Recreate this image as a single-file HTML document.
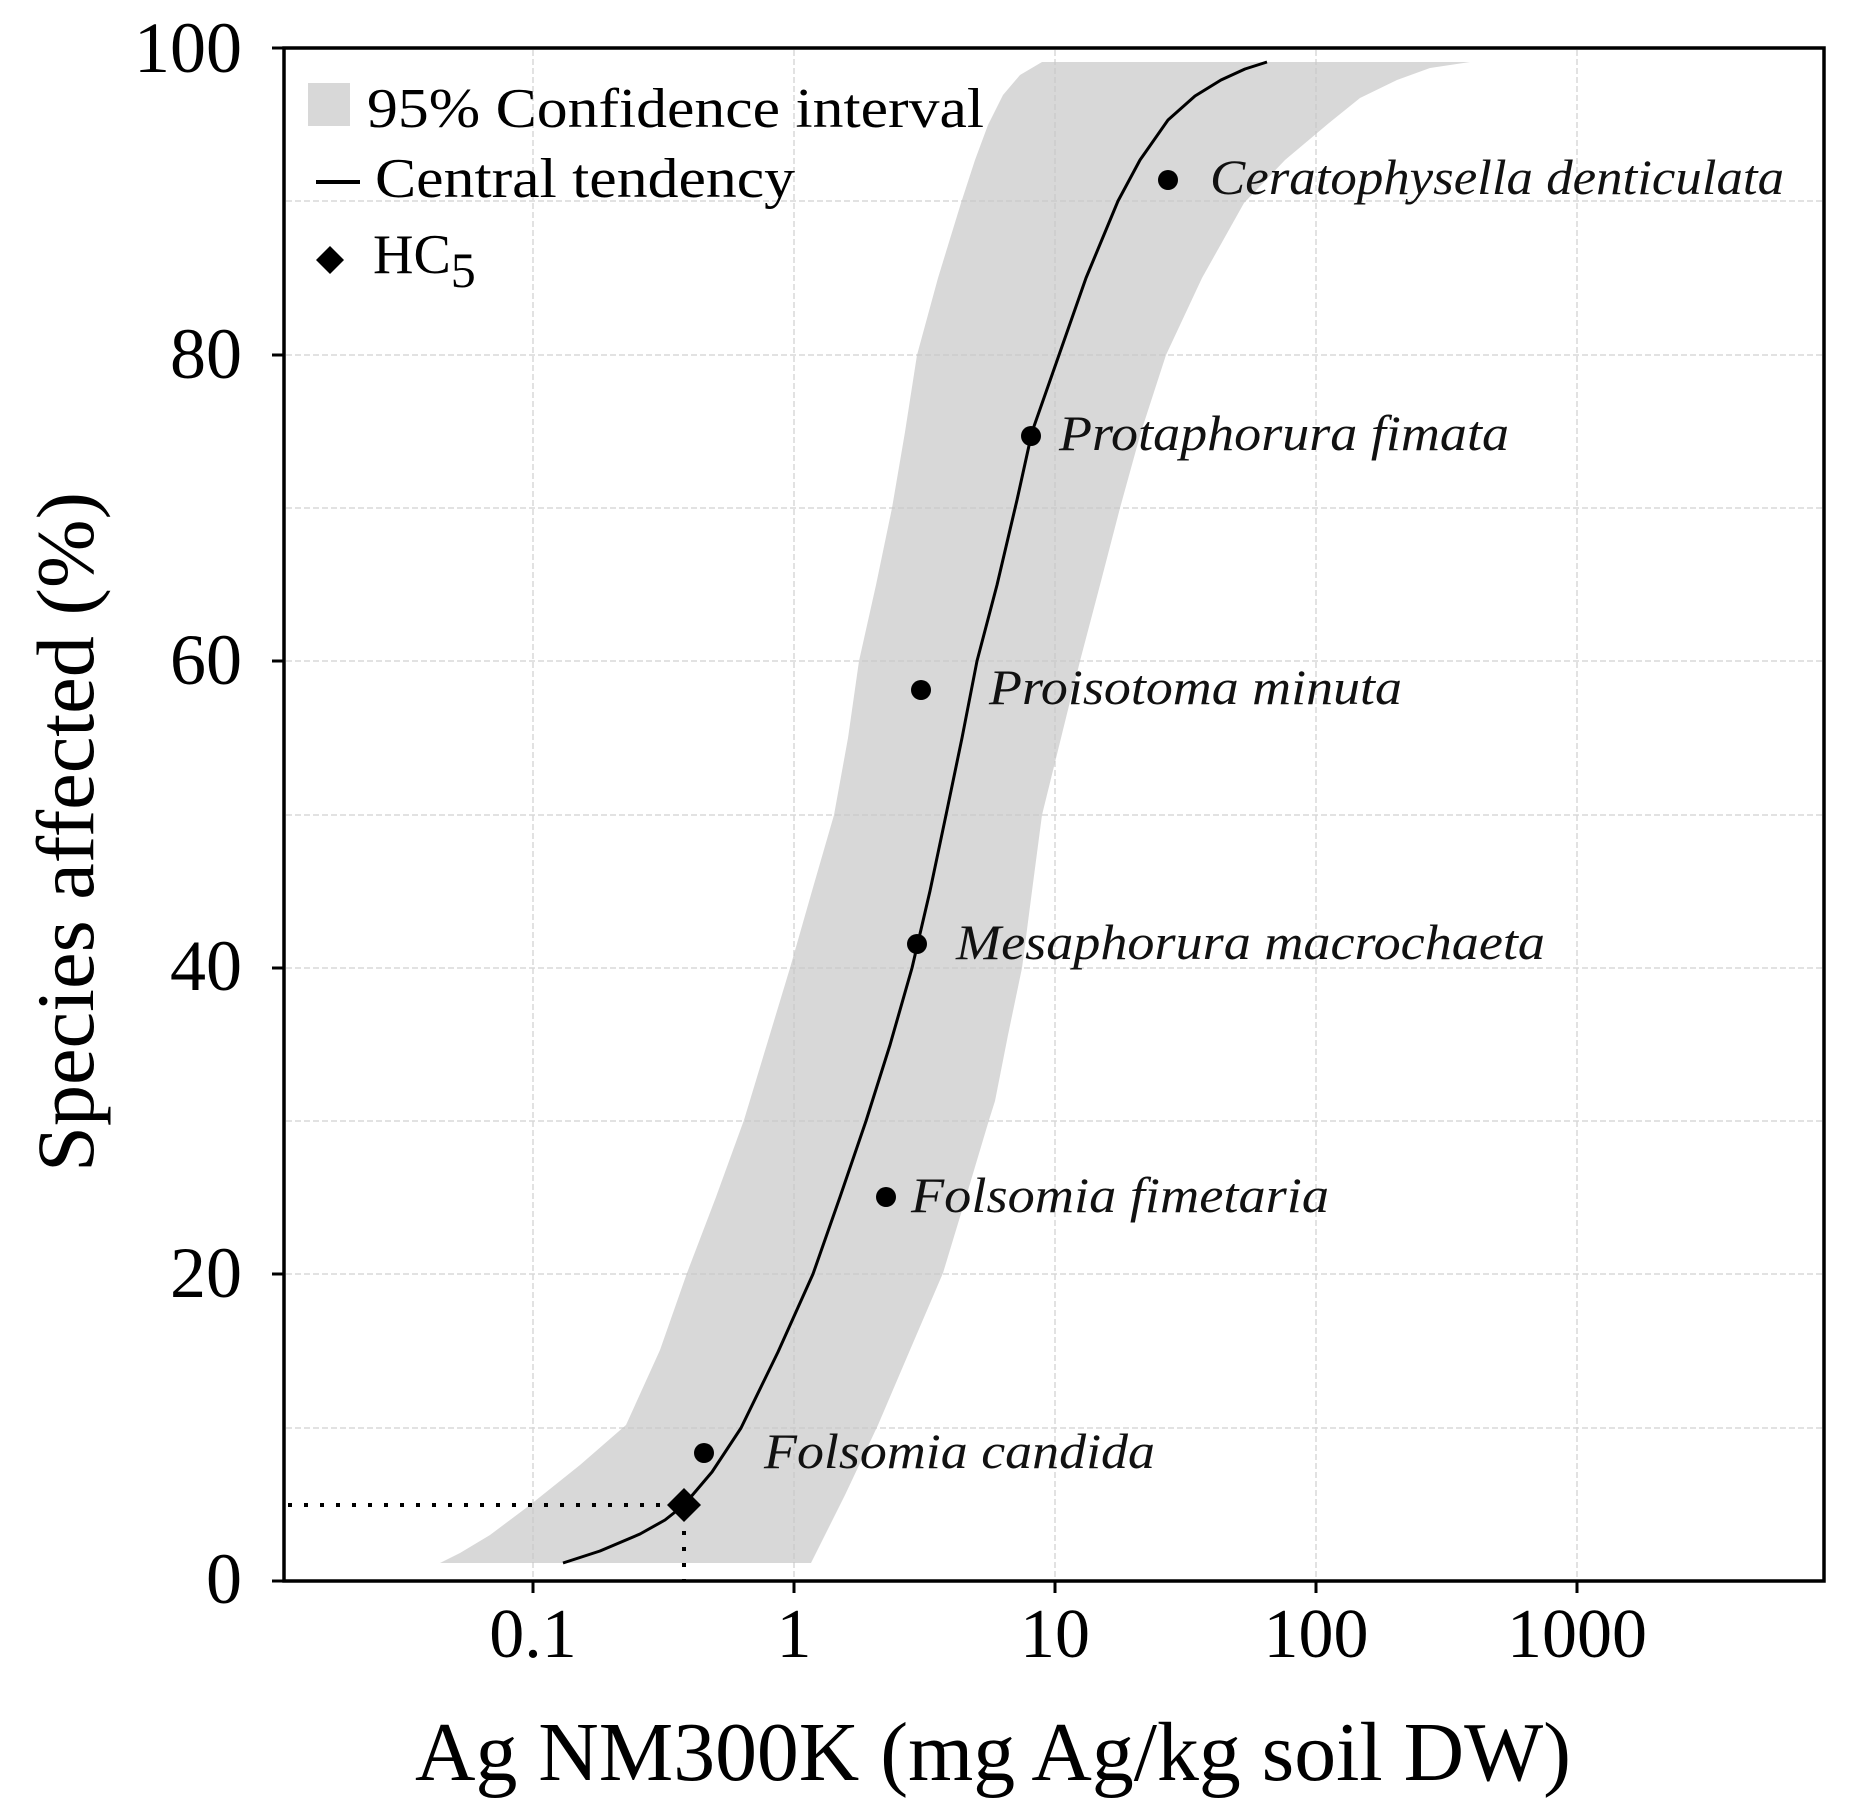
<!DOCTYPE html>
<html><head><meta charset="utf-8"><style>html,body{margin:0;padding:0;background:#fff}svg{display:block}</style></head>
<body>
<svg width="1857" height="1817" viewBox="0 0 1857 1817" xmlns="http://www.w3.org/2000/svg" font-family="'Liberation Serif', serif">
<rect width="1857" height="1817" fill="#fff"/>
<!-- band -->
<polygon fill="#d8d8d8" points="440,1563 460,1553 490,1535 530,1505 580,1465 626,1425 660,1350 687,1273 716,1197 744,1120 767,1044 790,968 812,891 834,815 848,738 859,661 876,585 892,508 905,432 917,355 938,278 961,203 975,160 988,125 1003,95 1020,75 1042,62 1470,62 1430,68 1397,80 1360,98 1329,123 1285,160 1244,203 1202,278 1166,355 1141,432 1120,508 1100,585 1080,661 1061,738 1042,815 1032,891 1022,968 1008,1035 995,1101 989,1120 966,1197 943,1273 910,1350 878,1425 845,1495 811,1563"/>
<!-- grid -->
<g stroke="#c8c8c8" stroke-width="1.5" stroke-dasharray="6,3" opacity="0.7">
<line x1="533" y1="50" x2="533" y2="1580"/><line x1="794" y1="50" x2="794" y2="1580"/><line x1="1055" y1="50" x2="1055" y2="1580"/><line x1="1316" y1="50" x2="1316" y2="1580"/><line x1="1577" y1="50" x2="1577" y2="1580"/>
<line x1="286" y1="1428" x2="1824" y2="1428"/><line x1="286" y1="1274" x2="1824" y2="1274"/><line x1="286" y1="1121" x2="1824" y2="1121"/><line x1="286" y1="968" x2="1824" y2="968"/><line x1="286" y1="815" x2="1824" y2="815"/><line x1="286" y1="661" x2="1824" y2="661"/><line x1="286" y1="508" x2="1824" y2="508"/><line x1="286" y1="355" x2="1824" y2="355"/><line x1="286" y1="201" x2="1824" y2="201"/>
</g>
<!-- dotted HC5 lines -->
<g stroke="#000" stroke-width="4" stroke-dasharray="4,12">
<line x1="288" y1="1505" x2="676" y2="1505"/><line x1="684" y1="1515" x2="684" y2="1581"/>
</g>
<!-- curve -->
<polyline fill="none" stroke="#000" stroke-width="3" stroke-linejoin="round" points="563,1563 600,1551 640,1534 665,1520 684,1505 712,1472 741,1428 778,1352 813,1274 840,1197 866,1121 890,1045 912,968 930,891 946,815 962,738 977,661 997,585 1017,500 1032,432 1059,355 1086,278 1118,201 1140,160 1168,120 1195,96 1221,80 1245,69 1267,62"/>
<!-- points -->
<g fill="#000">
<circle cx="1168" cy="180" r="10"/><circle cx="1031" cy="436" r="10"/><circle cx="921" cy="690" r="10"/><circle cx="917" cy="944" r="10"/><circle cx="886" cy="1197" r="10"/><circle cx="704" cy="1453" r="10"/>
<polygon points="684,1488 701,1505 684,1522 667,1505"/>
</g>
<!-- species labels -->
<g font-style="italic" font-size="50" fill="#111">
<text x="1210" y="194" textLength="574" lengthAdjust="spacingAndGlyphs">Ceratophysella denticulata</text>
<text x="1059" y="450" textLength="450" lengthAdjust="spacingAndGlyphs">Protaphorura fimata</text>
<text x="989" y="704" textLength="413" lengthAdjust="spacingAndGlyphs">Proisotoma minuta</text>
<text x="956" y="959" textLength="589" lengthAdjust="spacingAndGlyphs">Mesaphorura macrochaeta</text>
<text x="911" y="1212" textLength="418" lengthAdjust="spacingAndGlyphs">Folsomia fimetaria</text>
<text x="764" y="1468" textLength="391" lengthAdjust="spacingAndGlyphs">Folsomia candida</text>
</g>
<!-- axes box -->
<rect x="284" y="48" width="1540" height="1533" fill="none" stroke="#000" stroke-width="3.5"/>
<g stroke="#000" stroke-width="3">
<line x1="272" y1="48" x2="284" y2="48"/><line x1="272" y1="355" x2="284" y2="355"/><line x1="272" y1="661" x2="284" y2="661"/><line x1="272" y1="968" x2="284" y2="968"/><line x1="272" y1="1274" x2="284" y2="1274"/><line x1="272" y1="1581" x2="284" y2="1581"/>
<line x1="533" y1="1581" x2="533" y2="1593"/><line x1="794" y1="1581" x2="794" y2="1593"/><line x1="1055" y1="1581" x2="1055" y2="1593"/><line x1="1316" y1="1581" x2="1316" y2="1593"/><line x1="1577" y1="1581" x2="1577" y2="1593"/>
</g>
<!-- y tick labels -->
<g font-size="72" text-anchor="end" fill="#000">
<text x="242" y="72">100</text><text x="242" y="378">80</text><text x="242" y="684">60</text><text x="242" y="990">40</text><text x="242" y="1297">20</text><text x="242" y="1603">0</text>
</g>
<g font-size="70" text-anchor="middle" fill="#000">
<text x="533" y="1657">0.1</text><text x="794" y="1657">1</text><text x="1055" y="1657">10</text><text x="1316" y="1657">100</text><text x="1577" y="1657">1000</text>
</g>
<!-- axis titles -->
<text x="415" y="1780" font-size="84" textLength="1156" lengthAdjust="spacingAndGlyphs">Ag NM300K (mg Ag/kg soil DW)</text>
<text transform="translate(93,832) rotate(-90)" text-anchor="middle" font-size="82" textLength="680" lengthAdjust="spacingAndGlyphs">Species affected (%)</text>
<!-- legend -->
<rect x="308" y="83" width="42" height="43" fill="#d8d8d8"/>
<text x="367" y="127" font-size="56" textLength="617" lengthAdjust="spacingAndGlyphs">95% Confidence interval</text>
<line x1="316" y1="182" x2="360" y2="182" stroke="#000" stroke-width="4"/>
<text x="375" y="197" font-size="56" textLength="420" lengthAdjust="spacingAndGlyphs">Central tendency</text>
<polygon points="330,246 344,260 330,274 316,260" fill="#000"/>
<text x="373" y="273" font-size="56">HC<tspan font-size="50" dy="14">5</tspan></text>
</svg>
</body></html>
